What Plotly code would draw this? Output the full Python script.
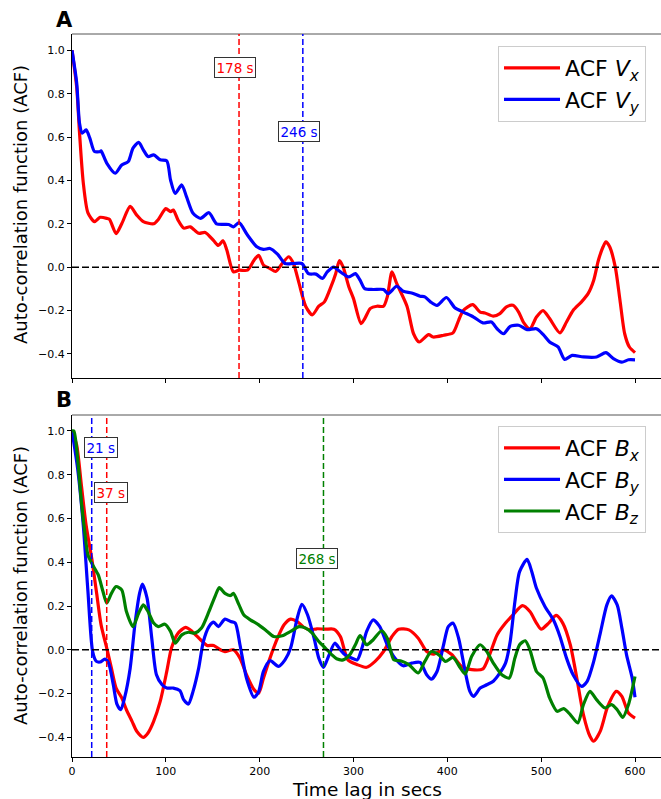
import plotly.graph_objects as go
from plotly.subplots import make_subplots

# ---- Panel A: velocity ACFs ----
lag_vx = [0, 5, 8, 12, 17, 24, 30, 37, 40, 47, 53, 62, 69, 76, 87, 92, 100, 105, 108, 113,
          119, 126, 135, 142, 151, 156, 161, 165, 172, 178, 187, 194, 199, 204, 211, 217,
          224, 231, 236, 242, 249, 256, 263, 269, 276, 281, 285, 289, 295, 300, 308, 312,
          318, 325, 332, 336, 341, 346, 357, 364, 370, 380, 385, 396, 406, 412, 417, 427,
          435, 440, 449, 456, 463, 470, 476, 481, 488, 495, 502, 509, 520, 527, 534, 543,
          550, 556, 561, 566, 569, 573, 579, 584, 589, 594, 600]
acf_vx = [1.0, 0.83, 0.62, 0.39, 0.25, 0.21, 0.23, 0.225, 0.22, 0.155, 0.20, 0.28, 0.24, 0.21,
          0.20, 0.22, 0.27, 0.256, 0.263, 0.217, 0.18, 0.186, 0.156, 0.16, 0.122, 0.10, 0.122,
          0.079, -0.022, -0.014, -0.014, 0.032, 0.055, 0.01, -0.006, -0.02, 0.017, 0.048, 0.017,
          -0.075, -0.18, -0.22, -0.18, -0.16, -0.09, -0.03, 0.03, 0.0, -0.09, -0.145, -0.26,
          -0.237, -0.19, -0.18, -0.18, -0.137, -0.022, -0.075, -0.18, -0.307, -0.345, -0.311,
          -0.322, -0.314, -0.303, -0.245, -0.2, -0.173, -0.207, -0.211, -0.226, -0.214, -0.183,
          -0.176, -0.207, -0.253, -0.284, -0.23, -0.2, -0.237, -0.303, -0.253, -0.2, -0.16,
          -0.122, -0.06, 0.032, 0.094, 0.117, 0.094, 0.0, -0.153, -0.307, -0.368, -0.394]

lag_vy = [0, 5, 8, 11, 15, 19, 24, 30, 31, 37, 46, 53, 60, 65, 71, 76, 81, 87, 94, 101, 105,
          110, 117, 122, 129, 137, 146, 154, 167, 172, 178, 187, 197, 204, 211, 219, 227, 236,
          245, 252, 260, 267, 272, 279, 286, 295, 302, 307, 312, 321, 332, 337, 346, 353, 362,
          371, 376, 382, 389, 399, 408, 417, 428, 438, 447, 453, 460, 467, 476, 485, 495, 502,
          509, 518, 525, 533, 545, 559, 569, 577, 586, 593, 600]
acf_vy = [1.0, 0.85, 0.664, 0.618, 0.633, 0.595, 0.533, 0.533, 0.536, 0.48, 0.433, 0.471, 0.487,
          0.549, 0.575, 0.541, 0.51, 0.518, 0.495, 0.49, 0.402, 0.34, 0.379, 0.325, 0.248, 0.225,
          0.251, 0.2, 0.197, 0.186, 0.205, 0.148, 0.094, 0.082, 0.086, 0.06, 0.017, 0.017, 0.017,
          -0.03, -0.032, -0.052, -0.022, 0.0, -0.022, -0.045, -0.03, -0.06, -0.099, -0.103,
          -0.103, -0.122, -0.088, -0.111, -0.119, -0.134, -0.137, -0.16, -0.176, -0.14, -0.187,
          -0.207, -0.23, -0.257, -0.253, -0.284, -0.307, -0.273, -0.268, -0.288, -0.284, -0.31,
          -0.345, -0.368, -0.425, -0.407, -0.414, -0.414, -0.394, -0.422, -0.438, -0.427, -0.427]

# ---- Panel B: magnetic field ACFs ----
lag_bx = [0, 5, 10, 15, 21, 26, 31, 37, 42, 47, 53, 58, 64, 69, 76, 81, 87, 94, 101, 106, 113,
          121, 128, 137, 144, 151, 158, 163, 172, 179, 186, 194, 199, 204, 211, 219, 226, 233,
          240, 247, 254, 261, 270, 279, 286, 294, 304, 314, 323, 332, 341, 348, 359, 369, 378,
          385, 396, 405, 415, 426, 438, 445, 453, 462, 470, 480, 488, 495, 500, 508, 516, 523,
          531, 538, 545, 552, 556, 563, 571, 580, 586, 593, 600]
acf_bx = [1.0, 0.935, 0.752, 0.57, 0.418, 0.266, 0.114, 0.008, -0.084, -0.175, -0.22, -0.274,
          -0.327, -0.372, -0.4, -0.38, -0.327, -0.236, -0.099, 0.008, 0.076, 0.102, 0.084, 0.046,
          0.02, 0.02, 0.0, -0.008, 0.0, -0.038, -0.114, -0.182, -0.198, -0.13, -0.038, 0.053,
          0.114, 0.14, 0.129, 0.103, 0.091, 0.096, 0.094, 0.094, 0.06, -0.046, -0.068, -0.08,
          -0.053, -0.008, 0.061, 0.094, 0.091, 0.053, -0.008, -0.02, 0.0, -0.023, -0.076, -0.091,
          -0.087, -0.023, 0.068, 0.122, 0.16, 0.202, 0.175, 0.122, 0.094, 0.122, 0.157, 0.122,
          0.023, -0.13, -0.296, -0.395, -0.418, -0.372, -0.258, -0.19, -0.213, -0.289, -0.312]

lag_by = [0, 6, 12, 17, 22, 26, 30, 35, 39, 44, 48, 52, 56, 62, 67, 72, 75, 80, 85, 90, 96, 101,
          108, 115, 119, 124, 129, 135, 140, 146, 151, 156, 163, 169, 174, 179, 186, 194, 199,
          204, 211, 220, 227, 233, 240, 245, 251, 258, 263, 268, 274, 280, 286, 291, 298, 304,
          309, 314, 321, 328, 336, 344, 353, 362, 371, 378, 383, 389, 396, 401, 406, 412, 419,
          424, 428, 435, 442, 449, 456, 462, 467, 472, 477, 485, 490, 495, 504, 513, 520, 527,
          534, 543, 549, 556, 563, 570, 575, 581, 586, 591, 597, 600]
acf_by = [1.0, 0.828, 0.57, 0.266, -0.008, -0.053, -0.056, -0.043, -0.061, -0.16, -0.25, -0.274,
          -0.22, -0.084, 0.114, 0.258, 0.3, 0.236, 0.053, -0.114, -0.16, -0.175, -0.175, -0.187,
          -0.228, -0.248, -0.19, -0.084, 0.038, 0.106, 0.126, 0.106, 0.14, 0.129, 0.122, 0.023,
          -0.13, -0.217, -0.19, -0.099, -0.05, -0.076, -0.046, 0.008, 0.144, 0.208, 0.16, 0.053,
          -0.038, -0.08, -0.023, 0.03, 0.0, -0.023, -0.038, -0.046, 0.008, 0.084, 0.137, 0.106,
          0.023, -0.038, -0.073, -0.061, -0.058, -0.114, -0.134, -0.099, 0.023, 0.106, 0.122,
          0.053, -0.099, -0.19, -0.213, -0.175, -0.16, -0.144, -0.106, -0.061, 0.038, 0.22,
          0.357, 0.413, 0.357, 0.281, 0.198, 0.137, 0.061, -0.038, -0.114, -0.167, -0.144,
          -0.053, 0.076, 0.205, 0.246, 0.205, 0.099, -0.023, -0.129, -0.217]

lag_bz = [0, 2, 6, 10, 14, 17, 22, 28, 33, 37, 42, 47, 53, 58, 65, 71, 76, 81, 87, 92, 99, 105,
          110, 117, 124, 131, 138, 146, 153, 157, 163, 169, 172, 178, 183, 190, 199, 208, 215,
          224, 233, 242, 249, 256, 263, 270, 277, 282, 289, 296, 302, 307, 314, 321, 330, 336,
          343, 350, 359, 369, 376, 383, 391, 398, 406, 414, 419, 426, 435, 442, 449, 458, 466,
          472, 477, 483, 488, 495, 502, 509, 517, 524, 531, 539, 545, 552, 559, 568, 575, 581,
          587, 593, 600]
acf_bz = [1.0, 1.0, 0.874, 0.676, 0.524, 0.433, 0.388, 0.342, 0.266, 0.213, 0.258, 0.289, 0.274,
          0.175, 0.106, 0.167, 0.205, 0.175, 0.122, 0.106, 0.117, 0.084, 0.03, 0.068, 0.08,
          0.076, 0.099, 0.175, 0.25, 0.284, 0.258, 0.248, 0.258, 0.205, 0.16, 0.137, 0.114,
          0.084, 0.061, 0.064, 0.084, 0.106, 0.099, 0.076, 0.038, 0.008, -0.023, -0.041, -0.046,
          -0.023, 0.023, 0.065, 0.023, 0.046, 0.087, 0.053, -0.046, -0.05, -0.068, -0.106,
          -0.053, -0.008, -0.023, -0.053, -0.035, -0.084, -0.111, -0.03, 0.023, -0.008, -0.061,
          -0.114, -0.129, -0.038, 0.023, 0.041, 0.0, -0.099, -0.129, -0.22, -0.281, -0.269,
          -0.296, -0.334, -0.251, -0.19, -0.228, -0.266, -0.251, -0.274, -0.309, -0.251, -0.122]

# correlation times (s) marked with vertical lines
tau_vx, tau_vy = 178, 246
tau_bx, tau_by, tau_bz = 37, 21, 268

RED, BLUE, GREEN = "#ff0000", "#0000ff", "#008000"
FONT = "DejaVu Sans"

W, H = 661, 799
ML, MR, MT, MB = 72, 0, 34, 42
PW, PH = W - ML - MR, H - MT - MB


def px_x(p):
    return (p - ML) / PW


def px_y(p):
    return 1 - (p - MT) / PH


fig = make_subplots(rows=2, cols=1, shared_xaxes=False, vertical_spacing=0.05)

line_kw = dict(width=3.2, shape="spline", smoothing=0.7)
fig.add_trace(go.Scatter(x=lag_vx, y=acf_vx, mode="lines", line=dict(color=RED, **line_kw),
                         name="ACF <i>V<sub>x</sub></i>", legend="legend"), row=1, col=1)
fig.add_trace(go.Scatter(x=lag_vy, y=acf_vy, mode="lines", line=dict(color=BLUE, **line_kw),
                         name="ACF <i>V<sub>y</sub></i>", legend="legend"), row=1, col=1)
fig.add_trace(go.Scatter(x=lag_bx, y=acf_bx, mode="lines", line=dict(color=RED, **line_kw),
                         name="ACF <i>B<sub>x</sub></i>", legend="legend2"), row=2, col=1)
fig.add_trace(go.Scatter(x=lag_by, y=acf_by, mode="lines", line=dict(color=BLUE, **line_kw),
                         name="ACF <i>B<sub>y</sub></i>", legend="legend2"), row=2, col=1)
fig.add_trace(go.Scatter(x=lag_bz, y=acf_bz, mode="lines", line=dict(color=GREEN, **line_kw),
                         name="ACF <i>B<sub>z</sub></i>", legend="legend2"), row=2, col=1)

xrange = [0, 627.7]
ax_common = dict(showgrid=False, zeroline=False, showline=True, linecolor="black", linewidth=1,
                 ticks="outside", ticklen=4, tickwidth=1, tickcolor="black",
                 tickfont=dict(family=FONT, size=11, color="black"))

fig.update_xaxes(range=xrange, tickvals=[0, 100, 200, 300, 400, 500, 600], **ax_common)
fig.update_xaxes(showticklabels=False, row=1, col=1)
fig.update_yaxes(tickvals=[-0.4, -0.2, 0.0, 0.2, 0.4, 0.6, 0.8, 1.0], tickformat=".1f", **ax_common)
fig.update_yaxes(range=[-0.511, 1.075], domain=[px_y(378), 1.0], row=1, col=1)
fig.update_yaxes(range=[-0.49, 1.073], domain=[0.0, px_y(415)], row=2, col=1)
fig.update_xaxes(domain=[0, 1])

# zero reference, correlation-time markers and top spines
shapes = []
for xa, ya in (("x", "y"), ("x2", "y2")):
    shapes.append(dict(type="line", xref=f"{xa} domain", yref=ya, x0=0, x1=1, y0=0, y1=0,
                       line=dict(color="black", width=1.5, dash="7px,3px")))
    shapes.append(dict(type="line", xref=f"{xa} domain", yref=f"{ya} domain", x0=0, x1=1,
                       y0=1, y1=1, line=dict(color="#555555", width=1)))

markers = [("x", "y", tau_vx, RED), ("x", "y", tau_vy, BLUE),
           ("x2", "y2", tau_by, BLUE), ("x2", "y2", tau_bx, RED), ("x2", "y2", tau_bz, GREEN)]
for xa, ya, t, c in markers:
    shapes.append(dict(type="line", xref=xa, yref=f"{ya} domain", x0=t, x1=t, y0=0, y1=1,
                       line=dict(color=c, width=1.5, dash="6px,3px")))
fig.update_layout(shapes=shapes)

# boxed labels for the correlation times
labels = [("x", "y", tau_vx - 4.3, 0.919, tau_vx, RED),
          ("x", "y", tau_vy - 4.6, 0.626, tau_vy, BLUE),
          ("x2", "y2", tau_by + 10.4, 0.923, tau_by, BLUE),
          ("x2", "y2", tau_bx + 4.8, 0.721, tau_bx, RED),
          ("x2", "y2", tau_bz - 6.4, 0.419, tau_bz, GREEN)]
annotations = []
for xa, ya, xpos, ypos, t, c in labels:
    annotations.append(dict(xref=xa, yref=ya, x=xpos, y=ypos, text=f"{t} s", showarrow=False,
                            font=dict(family=FONT, size=13.5, color=c), bgcolor="white",
                            bordercolor="#333333", borderwidth=1, borderpad=1.5,
                            xanchor="center", yanchor="middle"))

# panel letters and axis titles
TITLE = 18
annotations += [
    dict(xref="paper", yref="paper", x=px_x(64), y=px_y(20), text="<b>A</b>", showarrow=False,
         font=dict(family=FONT, size=21, color="black"), xanchor="center", yanchor="middle"),
    dict(xref="paper", yref="paper", x=px_x(64), y=px_y(400), text="<b>B</b>", showarrow=False,
         font=dict(family=FONT, size=21, color="black"), xanchor="center", yanchor="middle"),
    dict(xref="paper", yref="paper", x=px_x(20), y=px_y(205), text="Auto-correlation function (ACF)",
         textangle=-90, showarrow=False, font=dict(family=FONT, size=TITLE, color="black"),
         xanchor="center", yanchor="middle"),
    dict(xref="paper", yref="paper", x=px_x(20), y=px_y(586), text="Auto-correlation function (ACF)",
         textangle=-90, showarrow=False, font=dict(family=FONT, size=TITLE, color="black"),
         xanchor="center", yanchor="middle"),
    dict(xref="paper", yref="paper", x=px_x(367), y=px_y(789), text="Time lag in secs",
         showarrow=False, font=dict(family=FONT, size=TITLE + 0.5, color="black"),
         xanchor="center", yanchor="middle"),
]
fig.update_layout(annotations=annotations)

legend_kw = dict(font=dict(family=FONT, size=22, color="black"), bgcolor="rgba(255,255,255,0.8)",
                 bordercolor="#cccccc", borderwidth=1, xanchor="left", yanchor="top",
                 itemwidth=56, tracegroupgap=0)
fig.update_layout(
    width=W, height=H,
    margin=dict(l=ML, r=MR, t=MT, b=MB, autoexpand=False),
    paper_bgcolor="white", plot_bgcolor="white",
    font=dict(family=FONT, size=11, color="black"),
    showlegend=True,
    legend=dict(x=px_x(498), y=px_y(46), **legend_kw),
    legend2=dict(x=px_x(498), y=px_y(426), **legend_kw),
)

fig.write_html("out.html")
